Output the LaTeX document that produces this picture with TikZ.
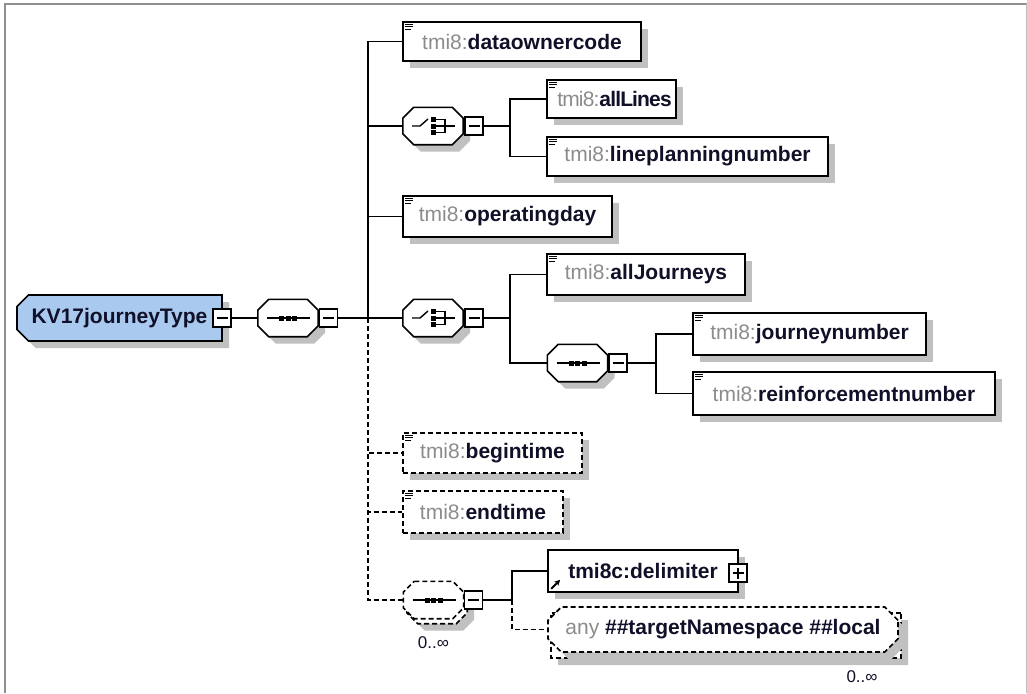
\documentclass[tikz,border=0pt]{standalone}
\usepackage{fontspec}
\setmainfont{Liberation Sans}
\usetikzlibrary{shapes.misc,shadows,arrows.meta}
\definecolor{tmigray}{HTML}{8C8C8C}
\definecolor{shadowgray}{HTML}{C0C0C0}
\definecolor{kvblue}{HTML}{A9C9EF}
\definecolor{framegray}{HTML}{8F8F8F}
\definecolor{namecol}{HTML}{101028}
\newcommand\pfx[1]{{\mdseries\color{tmigray}#1}}
\newcommand\octpath[2]{([xshift=#2]#1.north west) -- ([xshift=-#2]#1.north east) -- ([yshift=-#2]#1.north east) -- ([yshift=#2]#1.south east) -- ([xshift=-#2]#1.south east) -- ([xshift=#2]#1.south west) -- ([yshift=#2]#1.south west) -- ([yshift=-#2]#1.north west) -- cycle}
\begin{document}
\begin{tikzpicture}[x=1pt,y=-1pt,
  shadowed/.style={drop shadow={shadow xshift=7pt,shadow yshift=-7pt,fill=shadowgray,opacity=1}},
  elem/.style={rectangle,draw,line width=1.6pt,fill=white,inner sep=0pt,shadowed,text=namecol,
    font=\fontsize{21}{24}\selectfont\bfseries},
  optdash/.style={dash pattern=on 5pt off 3pt},
  comp/.style={rectangle,minimum width=60pt,minimum height=37pt,inner sep=0pt},
  compline/.style={draw,line width=1.6pt,fill=white},
  compshadow/.style={fill=shadowgray,transform canvas={shift={(7pt,-7pt)}}},
  kvbox/.style={chamfered rectangle,chamfered rectangle corners={north west,south west},
    chamfered rectangle xsep=8pt,draw,line width=1.6pt,fill=kvblue,minimum width=205pt,
    minimum height=46pt,inner sep=0pt,shadowed,text=namecol,font=\fontsize{21}{24}\selectfont\bfseries},
  anybox/.style={chamfered rectangle,chamfered rectangle xsep=10pt,draw,line width=1.6pt,fill=white,
    minimum width=350pt,minimum height=45pt,inner sep=0pt,shadowed,optdash,text=namecol,
    font=\fontsize{21}{24}\selectfont\bfseries},
  mbox/.style={rectangle,draw,line width=1.3pt,fill=white,minimum size=18pt,inner sep=0pt,
    path picture={\draw[line width=1.2pt] ([xshift=3.5pt]path picture bounding box.west) -- ([xshift=-3.5pt]path picture bounding box.east);}},
  pbox/.style={mbox,path picture={\draw[line width=1.2pt] ([xshift=3.5pt]path picture bounding box.west) -- ([xshift=-3.5pt]path picture bounding box.east);
      \draw[line width=1.2pt] ([yshift=3.5pt]path picture bounding box.south) -- ([yshift=-3.5pt]path picture bounding box.north);}},
  conn/.style={line width=1.4pt},
  mult/.style={text=namecol,font=\fontsize{17}{20}\selectfont,inner sep=0pt},
  icon/.style={line width=1pt},
]
\useasboundingbox (0,0) rectangle (1027,693);
% frame
\draw[framegray,line width=2pt] (5,693) -- (5,4) -- (1027,4);
\draw[black!25,line width=1pt] (1026,4) -- (1026,693);

% root
\node[kvbox] (kv) at (119.5,318) {KV17journeyType\hspace{23pt}};

% compositor anchors
\node[comp] (seq1) at (288,318) {};
\node[comp] (choice1) at (433,126) {};
\node[comp] (choice2) at (433,318) {};
\node[comp] (seq2) at (577.5,363) {};
\node[comp] (seq3back) at (437,605) {};
\node[comp] (seq3) at (433.5,600) {};
\foreach \n in {seq1,choice1,choice2,seq2}{
  \path[compshadow] \octpath{\n}{11pt};
  \path[compline] \octpath{\n}{11pt};
}
\path[compshadow] \octpath{seq3back}{11pt};
\path[compline,optdash] \octpath{seq3back}{11pt};
\path[compline,optdash] \octpath{seq3}{11pt};

% collapse boxes
\node[mbox] (km) at (222,318) {};
\node[mbox] (s1m) at (328.5,318) {};
\node[mbox] (c1m) at (474,126) {};
\node[mbox] (c2m) at (474,318) {};
\node[mbox] (s2m) at (618,363) {};
\node[mbox] (s3m) at (473.5,600) {};
\coordinate (t1) at (368,318);
\coordinate (t2) at (510,126);
\coordinate (t3) at (510,318);
\coordinate (t4) at (656,363);
\coordinate (t5) at (512,600);
\node[mult] (m1) at (433.5,643) {0..∞};

% elements
\node[elem,minimum width=238pt,minimum height=39pt] (dataowner) at (522,41.5) {\pfx{tmi8:}dataownercode};
\node[elem,minimum width=129pt,minimum height=38pt] (alllines) at (611.5,99) {\hspace{6pt}\addfontfeature{LetterSpace=-4}\pfx{tmi8:}allLines};
\node[elem,minimum width=281pt,minimum height=39pt] (lineplan) at (687.5,156.5) {\pfx{tmi8:}lineplanningnumber};
\node[elem,minimum width=209pt,minimum height=41pt] (operating) at (507.5,216.5) {\pfx{tmi8:}operatingday};
\node[elem,minimum width=198pt,minimum height=41pt] (alljourneys) at (646,274.5) {\pfx{tmi8:}allJourneys};
\node[elem,minimum width=233pt,minimum height=42pt] (journey) at (809.5,334) {\pfx{tmi8:}journeynumber};
\node[elem,minimum width=302pt,minimum height=43pt] (reinf) at (844,393.5) {\pfx{tmi8:}reinforcementnumber};
\node[elem,optdash,minimum width=179pt,minimum height=40pt] (begin) at (492.5,453) {\pfx{tmi8:}begintime};
\node[elem,optdash,minimum width=160pt,minimum height=42pt] (endt) at (483,512) {\pfx{tmi8:}endtime};
\node[elem,minimum width=190pt,minimum height=42pt] (delim) at (643,571) {tmi8c:delimiter\hspace{6pt}};
\node[pbox] (dp) at (738,573) {};
\node[anybox] (anyback) at (726,635.5) {};
\node[anybox,drop shadow={opacity=0}] (any) at (723,629.5) {\pfx{any} \#\#targetNamespace \#\#local};
\node[mult] (m2) at (862,677) {0..∞};

% element icons
\foreach \n in {dataowner,alllines,lineplan,operating,alljourneys,journey,reinf,begin,endt}{
  \draw[icon] ([shift={(3,3)}]\n.north west) -- ++(8,0);
  \draw[icon] ([shift={(3,5.5)}]\n.north west) -- ++(8,0);
  \draw[icon] ([shift={(3,8)}]\n.north west) -- ++(6,0);
}
% reference arrow
\draw[line width=1.8pt,-{Stealth[length=6pt,width=6pt]}] ([shift={(4,-4)}]delim.south west) -- ++(9,-9);

% sequence icons
\foreach \n in {seq1,seq2,seq3}{
  \draw[line width=1.4pt] ([xshift=-21pt]\n.center) -- ([xshift=22pt]\n.center);
  \foreach \dx in {-6.5,0,6.5}{
    \fill ([shift={(\dx-2.5,-2.5)}]\n.center) rectangle ++(5,5);
  }
}
% choice icons
\foreach \n in {choice1,choice2}{
  \draw[line width=1.4pt] ([xshift=-21pt]\n.center) -- ++(8,0) -- ++(8,-7);
  \foreach \dy in {-6.5,0,6.5}{
    \fill ([shift={(-2.5,\dy-2.5)}]\n.center) rectangle ++(5,5);
  }
  \draw[line width=1.4pt] ([shift={(2,-6.5)}]\n.center) -- ++(10,0) -- ++(0,13) -- ++(-10,0);
  \draw[line width=1.4pt] ([shift={(2,0)}]\n.center) -- ++(20,0);
}

% connectors
\draw[conn] (km.east) -- (seq1.west);
\draw[conn] (s1m.east) -- (t1);
\draw[conn] (t1) |- (dataowner.west);
\draw[conn] (t1) |- (choice1.west);
\draw[conn] (t1) |- (operating.west);
\draw[conn] (t1) -- (choice2.west);
\draw[conn,optdash] (t1) |- (begin.west);
\draw[conn,optdash] (t1) |- (endt.west);
\draw[conn,optdash] (t1) |- (seq3.west);
\draw[conn] (c1m.east) -- (t2);
\draw[conn] (t2) |- (alllines.west);
\draw[conn] (t2) |- (lineplan.west);
\draw[conn] (c2m.east) -- (t3);
\draw[conn] (t3) |- (alljourneys.west);
\draw[conn] (t3) |- (seq2.west);
\draw[conn] (s2m.east) -- (t4);
\draw[conn] (t4) |- (journey.west);
\draw[conn] (t4) |- (reinf.west);
\draw[conn] (s3m.east) -- (t5);
\draw[conn] (t5) |- (delim.west);
\draw[conn,optdash] (t5) |- (any.west);
\end{tikzpicture}
\end{document}
